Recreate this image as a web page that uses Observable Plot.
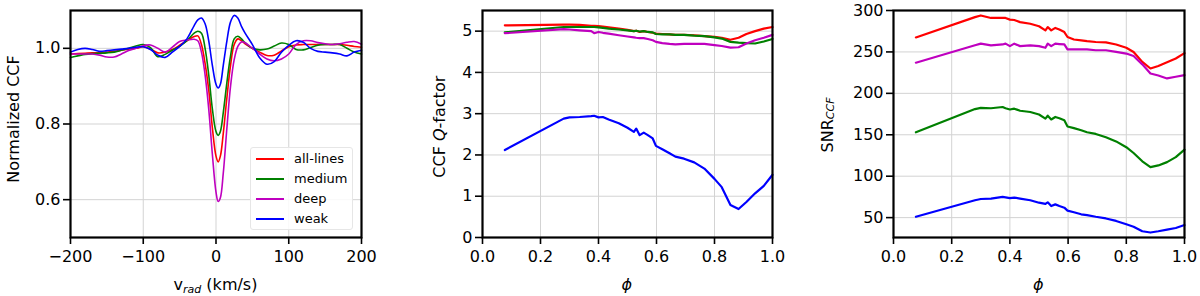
<!DOCTYPE html>
<html><head><meta charset="utf-8">
<script src="https://cdn.jsdelivr.net/npm/d3@7"></script>
<script src="https://cdn.jsdelivr.net/npm/@observablehq/plot@0.6"></script>
<style>
body{margin:0;background:#fff;font-family:"DejaVu Sans",sans-serif;}
#wrap{position:relative;width:1200px;height:296px;overflow:hidden;background:#fff;}
.panel{position:absolute;top:0;width:400px;height:296px;}
.legend{position:absolute;left:250px;top:147px;width:103px;height:83px;box-sizing:border-box;background:rgba(255,255,255,0.85);border:1px solid #e6e6e6;border-radius:3px;font-size:13px;color:#000;}
.legend .row{position:absolute;left:0;height:20px;width:100%;}
.legend .sw{position:absolute;left:5px;top:9px;width:28px;height:2px;}
.legend .lb{position:absolute;left:43px;top:1px;line-height:18px;}
</style></head><body><div id="wrap"></div>
<script>
// ---------- data ----------
const seriesNames = ["all-lines", "medium", "deep", "weak"];
const seriesColors = ["#ff0000", "#008000", "#bf00bf", "#0000ff"];

const velocity = [-200,-190,-180,-170,-160,-150,-140,-130,-120,-110,-100,-90,-80,-70,-60,-50,-40,-30,-25,-20,-15,-10,-5,0,3,6,10,15,20,25,30,35,40,50,60,70,80,90,100,110,120,130,140,150,160,170,180,190,200];
const ccfAll = [0.985,0.986,0.987,0.988,0.988,0.99,0.992,0.995,0.998,1.0,1.004,0.998,0.988,0.99,0.997,1.008,1.02,1.031,1.033,1.01,0.96,0.89,0.79,0.715,0.70,0.715,0.775,0.87,0.955,1.01,1.025,1.02,1.012,1.0,0.99,0.981,0.982,0.993,1.004,1.009,1.01,1.01,1.01,1.01,1.01,1.01,1.008,1.005,1.003];
const ccfMedium = [0.976,0.98,0.984,0.986,0.987,0.988,0.99,0.995,1.0,1.006,1.01,1.002,0.978,0.984,0.995,1.005,1.02,1.04,1.045,1.04,1.0,0.93,0.84,0.78,0.77,0.78,0.83,0.91,0.98,1.025,1.032,1.025,1.015,1.0,0.996,0.998,1.006,1.014,1.01,0.997,0.996,1.002,1.008,1.01,1.01,1.01,1.0,0.99,0.985];
const ccfDeep = [0.985,0.985,0.985,0.985,0.982,0.977,0.977,0.985,0.994,1.0,1.007,1.009,1.0,0.99,1.003,1.018,1.022,1.024,1.02,0.99,0.93,0.84,0.72,0.62,0.595,0.605,0.67,0.79,0.90,0.97,1.005,1.017,1.015,1.0,0.985,0.972,0.967,0.972,0.985,1.01,1.02,1.02,1.015,1.012,1.01,1.012,1.016,1.018,1.011];
const ccfWeak = [0.99,0.997,1.0,0.997,0.992,0.994,0.996,0.998,1.0,1.003,1.004,0.997,0.982,0.976,0.99,1.005,1.025,1.06,1.075,1.08,1.065,1.02,0.955,0.905,0.895,0.905,0.955,1.02,1.07,1.087,1.08,1.058,1.04,1.01,0.975,0.958,0.965,0.99,1.008,1.02,1.016,1.0,0.992,0.99,0.988,0.985,0.98,0.99,0.995];

const phase = [0.077,0.28,0.30,0.335,0.375,0.385,0.40,0.415,0.435,0.47,0.50,0.522,0.53,0.542,0.556,0.57,0.587,0.598,0.62,0.645,0.665,0.695,0.73,0.765,0.80,0.825,0.855,0.883,0.91,0.94,0.97,1.0];
const qAll = [5.14,5.16,5.16,5.15,5.13,5.13,5.12,5.11,5.09,5.06,5.03,5.00,5.01,4.98,5.0,4.98,4.96,4.94,4.93,4.92,4.91,4.91,4.90,4.88,4.86,4.84,4.79,4.84,4.93,5.00,5.06,5.10];
const qMedium = [4.97,5.10,5.10,5.10,5.10,5.10,5.09,5.08,5.06,5.04,5.02,5.00,5.01,4.99,5.00,4.98,4.97,4.93,4.92,4.92,4.91,4.91,4.89,4.88,4.85,4.82,4.74,4.72,4.71,4.70,4.75,4.81];
const qDeep = [4.95,5.05,5.04,5.02,5.00,4.95,4.98,4.96,4.94,4.90,4.87,4.85,4.84,4.83,4.83,4.81,4.78,4.74,4.71,4.69,4.68,4.69,4.69,4.69,4.66,4.64,4.60,4.61,4.70,4.78,4.84,4.91];
const qWeak = [2.12,2.88,2.91,2.92,2.94,2.95,2.91,2.92,2.86,2.77,2.66,2.56,2.64,2.48,2.54,2.48,2.40,2.22,2.14,2.04,1.96,1.91,1.82,1.67,1.42,1.22,0.79,0.69,0.86,1.07,1.25,1.52];

const snrAll = [267.5,292,294,291,291,291,289,288.5,286,284,281,276,280,276,279,277,274,268,265,264,263,262,261.5,259,255,250,238,230,233,237.5,242,248.5];
const snrMedium = [153,181,182.5,182,183.5,182,180.5,181.5,179,177.5,174.5,169.5,173,168.5,171.5,170,167.5,160,158,155.5,153,151,147,142,135,128,118,111,113,117,123,132];
const snrDeep = [237,258,260,258,259,260,257,260,257,258,257,255,260,257,260,259.5,259,253,253,253,253,252,252,250,248,245,235,224,221.5,218,220,222];
const snrWeak = [51,71,72.5,73,75,74.5,73.5,74.2,73,71,68,66.5,68.5,64,66,64,62,58.5,56.5,54,53,51,49,46,42,39,33.5,32,33.5,35.5,37.5,41];

const ccfXTicks = [-200,-100,0,100,200];
const ccfYTicks = [0.6,0.8,1.0];
const phaseTicks = [0,0.2,0.4,0.6,0.8,1.0];
const qTicks = [0,1,2,3,4,5];
const snrTicks = [50,100,150,200,250,300];

// ---------- drawing ----------
const wrap = document.getElementById("wrap");
const gridStyle = {stroke: "#d3d3d3", strokeOpacity: 1, strokeWidth: 1};

function panel(o) {
  const marks = [
    Plot.gridX(o.xTicks, gridStyle),
    Plot.gridY(o.yTicks, gridStyle),
    ...o.series.map((ys, i) => Plot.line(o.x.map((xv, j) => ({x: xv, y: ys[j]})), {
      x: "x", y: "y", stroke: seriesColors[i], strokeWidth: o.lineWidth, curve: o.curve
    })),
    Plot.frame({stroke: "black", strokeWidth: 2.2}),
    Plot.axisX(o.xTicks, {tickSize: 7, tickPadding: 6, tickFormat: o.xFmt, label: null, strokeWidth: 1.6, fontSize: 16}),
    Plot.axisY(o.yTicks, {tickSize: 7, tickPadding: 3, tickFormat: o.yFmt, label: null, strokeWidth: 1.6, fontSize: 16})
  ];
  const svg = Plot.plot({
    width: 400, height: 296,
    marginTop: 10, marginBottom: 59, marginLeft: o.marginLeft, marginRight: o.marginRight,
    x: {domain: o.xDomain},
    y: {domain: o.yDomain},
    style: {fontFamily: "DejaVu Sans", fontSize: "16px", color: "black", background: "white", overflow: "visible"},
    marks
  });
  const div = document.createElement("div");
  div.className = "panel";
  div.style.left = o.left + "px";
  div.appendChild(svg);
  wrap.appendChild(div);
  const s = d3.select(svg);
  o.xLabel(s.append("text").attr("x", o.xLabelX).attr("y", 290).attr("text-anchor", "middle")
    .attr("font-family", "DejaVu Sans").attr("font-size", 16).attr("fill", "black"));
  o.yLabel(s.append("text").attr("transform", `translate(${o.yLabelX},${o.yLabelY}) rotate(-90)`)
    .attr("text-anchor", "middle").attr("dominant-baseline", "central")
    .attr("font-family", "DejaVu Sans").attr("font-size", 16).attr("fill", "black"));
  return div;
}

const p1 = panel({
  left: 0, marginLeft: 70, marginRight: 39,
  x: velocity, series: [ccfAll, ccfMedium, ccfDeep, ccfWeak],
  xDomain: [-200, 200], yDomain: [0.5, 1.1],
  xTicks: ccfXTicks, yTicks: ccfYTicks,
  xFmt: d3.format("d"), yFmt: d3.format(".1f"),
  curve: "catmull-rom", lineWidth: 1.6,
  xLabelX: 215.5, yLabelX: 13, yLabelY: 119,
  xLabel: t => { t.append("tspan").text("v"); t.append("tspan").attr("font-size", 11).attr("font-style", "italic").attr("dy", 3).text("rad"); t.append("tspan").attr("dy", -3).text(" (km/s)"); },
  yLabel: t => t.text("Normalized CCF")
});

panel({
  left: 400, marginLeft: 82, marginRight: 28,
  x: phase, series: [qAll, qMedium, qDeep, qWeak],
  xDomain: [0, 1], yDomain: [0, 5.5],
  xTicks: phaseTicks, yTicks: qTicks,
  xFmt: d3.format(".1f"), yFmt: d3.format("d"),
  curve: "linear", lineWidth: 2.2,
  xLabelX: 226.9, yLabelX: 39.3, yLabelY: 126.7,
  xLabel: t => t.attr("font-style", "italic").text("ϕ"),
  yLabel: t => { t.append("tspan").text("CCF "); t.append("tspan").attr("font-style", "italic").text("Q"); t.append("tspan").text("-factor"); }
});

panel({
  left: 800, marginLeft: 93, marginRight: 16,
  x: phase, series: [snrAll, snrMedium, snrDeep, snrWeak],
  xDomain: [0, 1], yDomain: [26, 300],
  xTicks: phaseTicks, yTicks: snrTicks,
  xFmt: d3.format(".1f"), yFmt: d3.format("d"),
  curve: "linear", lineWidth: 2.2,
  xLabelX: 238.4, yLabelX: 27.3, yLabelY: 125,
  xLabel: t => t.attr("font-style", "italic").text("ϕ"),
  yLabel: t => { t.append("tspan").text("SNR"); t.append("tspan").attr("font-size", 11).attr("font-style", "italic").attr("dy", 3).text("CCF"); }
});

// legend (panel 1)
const leg = document.createElement("div");
leg.className = "legend";
seriesNames.forEach((name, i) => {
  const row = document.createElement("div");
  row.className = "row";
  row.style.top = (i * 20 + 1) + "px";
  const sw = document.createElement("div");
  sw.className = "sw";
  sw.style.background = seriesColors[i];
  const lb = document.createElement("div");
  lb.className = "lb";
  lb.textContent = name;
  row.appendChild(sw); row.appendChild(lb);
  leg.appendChild(row);
});
p1.appendChild(leg);
</script>
</body></html>
